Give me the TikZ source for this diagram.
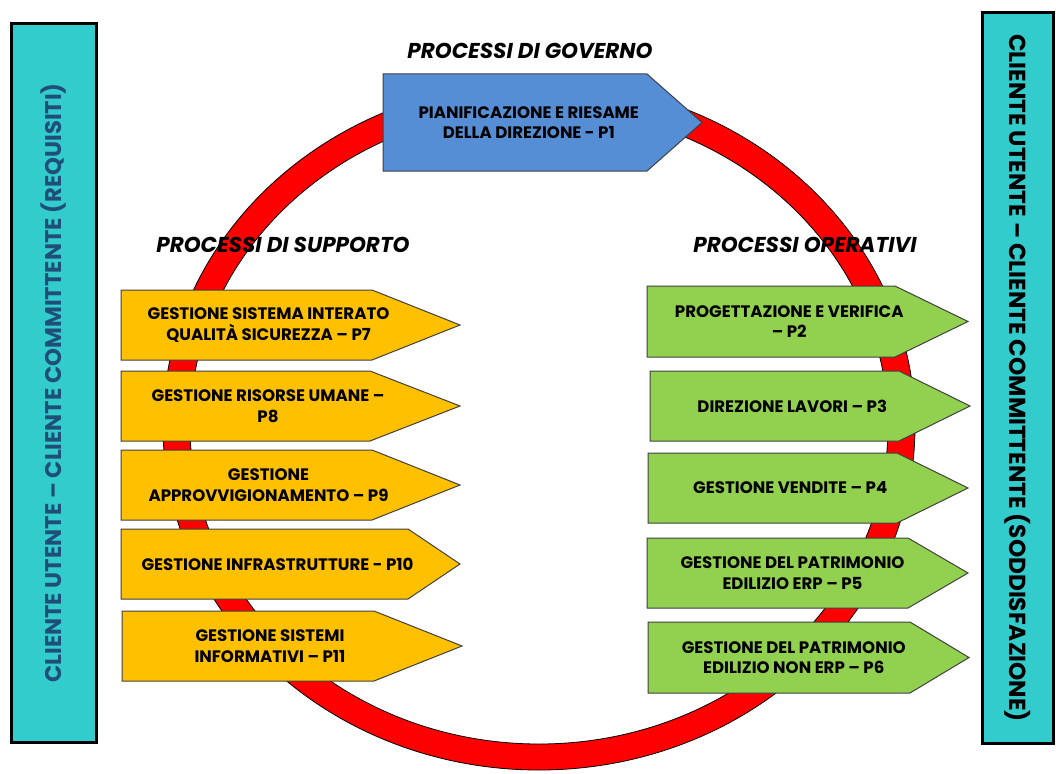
\documentclass[tikz,border=0pt]{standalone}
\usepackage{fontspec}
\setmainfont{Poppins}
\usetikzlibrary{positioning}
\definecolor{boxcyan}{RGB}{51,204,204}
\definecolor{govblue}{RGB}{85,142,213}
\definecolor{supporange}{RGB}{255,192,0}
\definecolor{opgreen}{RGB}{146,208,80}
\definecolor{sidetext}{RGB}{31,78,121}
\definecolor{edge}{RGB}{64,64,64}
\tikzset{
  procshape/.style={draw=edge, line width=1pt},
  proctext/.style={align=center, font=\bfseries\fontsize{16.6}{20.5}\selectfont, inner sep=0pt},
  heading/.style={font=\bfseries\itshape\fontsize{21.5}{24}\selectfont, inner sep=0pt},
  sidebox/.style={draw=black, line width=3pt, fill=boxcyan, inner sep=0pt}
}

\begin{document}
\begin{tikzpicture}[x=1pt, y=-1pt]
\useasboundingbox (0,0) rectangle (1056,773);
% ring of the processes
\draw [fill=red, even odd rule, draw=black, line width=0.8pt] (539,426) ellipse (376pt and 344pt) (539,426) ellipse (349pt and 318pt);
% customer columns
\node [sidebox, text=sidetext, font=\bfseries\fontsize{22.7}{24}\selectfont, rotate=90, minimum width=718pt, minimum height=85pt] (req) at (53.5,383) {CLIENTE UTENTE – CLIENTE COMMITTENTE (REQUISITI)};
\node [sidebox, font=\bfseries\fontsize{23.2}{26}\selectfont, rotate=-90, minimum width=730pt, minimum height=71pt] (sod) at (1017.5,378) {CLIENTE UTENTE – CLIENTE COMMITTENTE (SODDISFAZIONE)};
% process arrows
\foreach \n/\xa/\ya/\xb/\yb/\xt/\col/\txt in {
  1/383/74/647/171/702/govblue/{PIANIFICAZIONE E RIESAME\\DELLA DIREZIONE - P1},
  7/121/290/372/360/460/supporange/{GESTIONE SISTEMA INTERATO\\QUALITÀ SICUREZZA – P7},
  8/121/371/370/441/460/supporange/{GESTIONE RISORSE UMANE –\\P8},
  9/121/450/372/520/460/supporange/{GESTIONE\\APPROVVIGIONAMENTO – P9},
  10/121/529/408/599/460/supporange/{GESTIONE INFRASTRUTTURE - P10},
  11/122/611/374/681/462/supporange/{GESTIONE SISTEMI\\INFORMATIVI – P11},
  2/647/286/895/357/968/opgreen/{PROGETTAZIONE E VERIFICA\\– P2},
  3/650/371/899/441/970/opgreen/{DIREZIONE LAVORI – P3},
  4/648/453/897/523/968/opgreen/{GESTIONE VENDITE – P4},
  5/647/538/908/608/968/opgreen/{GESTIONE DEL PATRIMONIO\\EDILIZIO ERP – P5},
  6/648/622/910/693/969/opgreen/{GESTIONE DEL PATRIMONIO\\EDILIZIO NON ERP – P6}}
{
  \draw [procshape, fill=\col] (\xa,\ya) -- (\xb,\ya) -- (\xt,{(\ya+\yb)/2}) -- (\xb,\yb) -- (\xa,\yb) -- cycle;
  \node [proctext] (p\n) at ({(\xa+\xt-(\xt-\xb)/2)/2},{(\ya+\yb)/2}) {\txt};
}
% group titles
\node [heading] (gov) at (530,51) {PROCESSI DI GOVERNO};
\node [heading] (supp) at (283,245) {PROCESSI DI SUPPORTO};
\node [heading] (oper) at (805,245) {PROCESSI OPERATIVI};
\end{tikzpicture}
\end{document}
